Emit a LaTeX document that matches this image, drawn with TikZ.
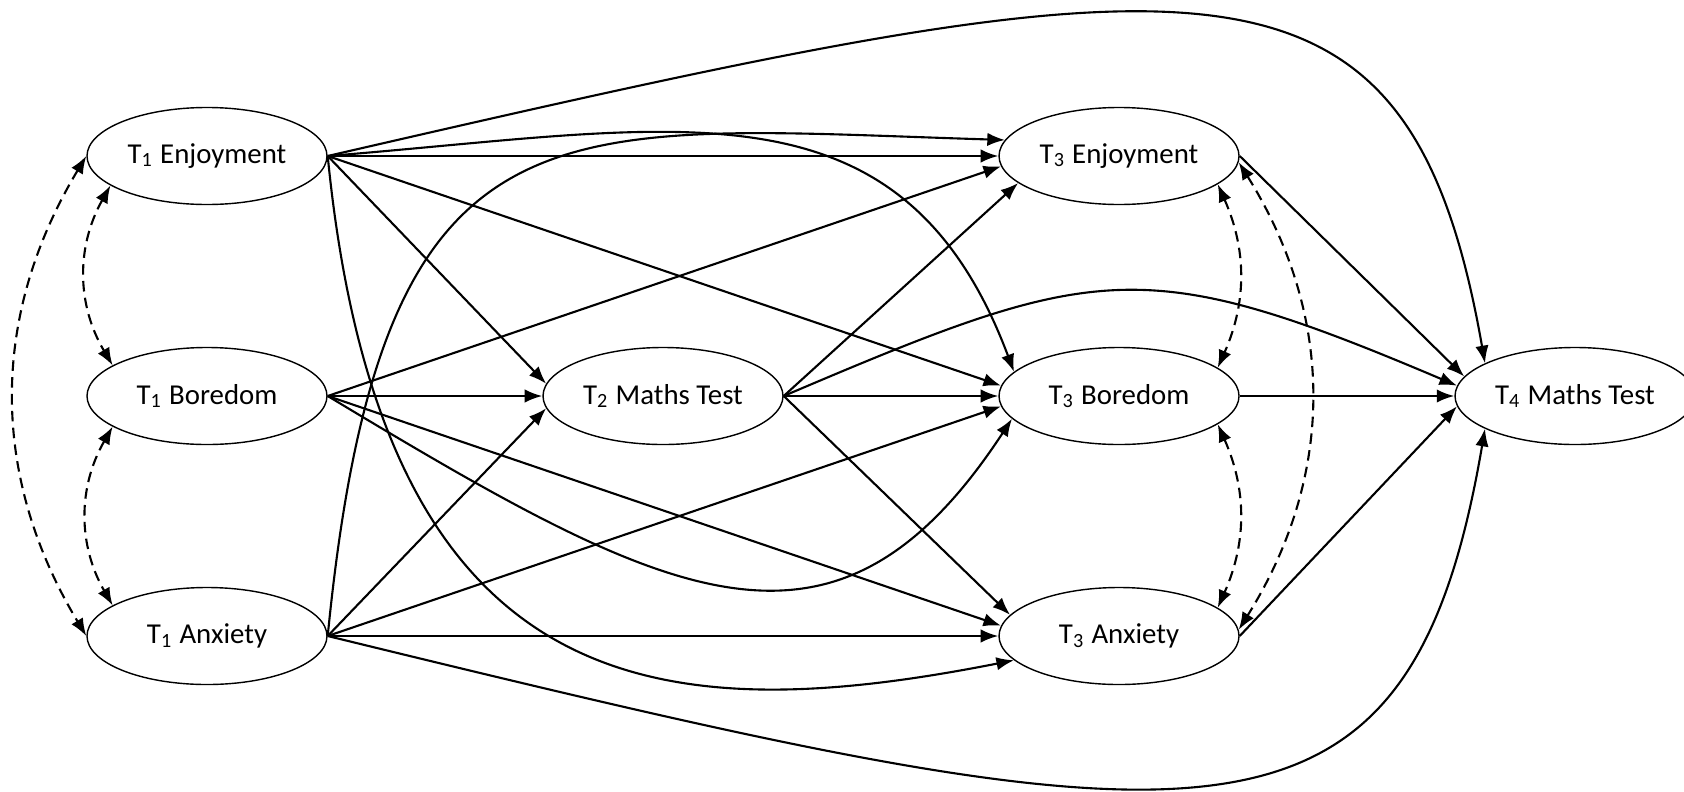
\documentclass[tikz,border=0pt]{standalone}
\usepackage{fontspec}
\setmainfont{Carlito}
\usepackage{tikz}
\usetikzlibrary{shapes.geometric,arrows.meta}
\tikzset{
  >={Latex[length=5pt,width=3.8pt]},
  lat/.style={ellipse,draw,line width=0.4pt,minimum width=2.4cm,minimum height=0.97cm,
    inner sep=0pt,font=\fontsize{8.2}{10}\selectfont},
  reg/.style={->,line width=0.6pt},
  cov/.style={<->,line width=0.6pt,dash pattern=on 3pt off 1.8pt}
}

\begin{document}
\begin{tikzpicture}
    \useasboundingbox (0,0) rectangle (16.84,-7.91);
    \node[lat] (e_1) at (2.07,-1.56) {T\textsubscript{1} Enjoyment};
    \node[lat] (b_1) at (2.07,-3.96) {T\textsubscript{1} Boredom};
    \node[lat] (a_1) at (2.07,-6.36) {T\textsubscript{1} Anxiety};
    \node[lat] (m_2) at (6.63,-3.96) {T\textsubscript{2} Maths Test};
    \node[lat] (e_3) at (11.19,-1.56) {T\textsubscript{3} Enjoyment};
    \node[lat] (b_3) at (11.19,-3.96) {T\textsubscript{3} Boredom};
    \node[lat] (a_3) at (11.19,-6.36) {T\textsubscript{3} Anxiety};
    \node[lat] (m_4) at (15.75,-3.96) {T\textsubscript{4} Maths Test};
    % straight paths
    \draw[reg] (e_1.east) -- (e_3.west);
    \draw[reg] (e_1.east) -- (m_2.174);
    \draw[reg] (e_1.east) -- (b_3.175);
    \draw[reg] (b_1.east) -- (e_3.185);
    \draw[reg] (b_1.east) -- (m_2.west);
    \draw[reg] (b_1.east) -- (a_3.175);
    \draw[reg] (a_1.east) -- (m_2.186);
    \draw[reg] (a_1.east) -- (b_3.185);
    \draw[reg] (a_1.east) -- (a_3.west);
    \draw[reg] (m_2.east) -- (e_3.195);
    \draw[reg] (m_2.east) -- (b_3.west);
    \draw[reg] (m_2.east) -- (a_3.169);
    \draw[reg] (e_3.east) -- (m_4.170);
    \draw[reg] (b_3.east) -- (m_4.west);
    \draw[reg] (a_3.east) -- (m_4.185);
    % curved paths
    \draw[reg] (e_1.east) .. controls (12.04,0.46) and (14.07,0.82) .. (m_4.160);
    \draw[reg] (e_1.east) .. controls (6.77,-1.28) and (9.01,-0.71) .. (b_3.167);
    \draw[reg] (a_1.east) .. controls (3.82,-0.86) and (5.50,-1.26) .. (e_3.172);
    \draw[reg] (e_1.east) .. controls (3.82,-7.05) and (6.60,-7.30) .. (a_3.193);
    \draw[reg] (a_1.east) .. controls (12.04,-8.50) and (14.07,-8.86) .. (m_4.200);
    \draw[reg] (b_1.east) .. controls (6.70,-6.02) and (8.35,-6.89) .. (b_3.192);
    \draw[reg] (m_2.east) .. controls (10.96,-2.63) and (11.42,-2.52) .. (m_4.175);
    % covariances
    \draw[cov] (e_1.197) to[bend right=30] (b_1.162);
    \draw[cov] (b_1.198) to[bend right=30] (a_1.162);
    \draw[cov] (e_1.west) to[bend right=31] (a_1.west);
    \draw[cov] (e_3.344) to[bend left=24] (b_3.16);
    \draw[cov] (b_3.344) to[bend left=24] (a_3.16);
    \draw[cov] (e_3.357) to[bend left=32] (a_3.3);
\end{tikzpicture}
\end{document}
